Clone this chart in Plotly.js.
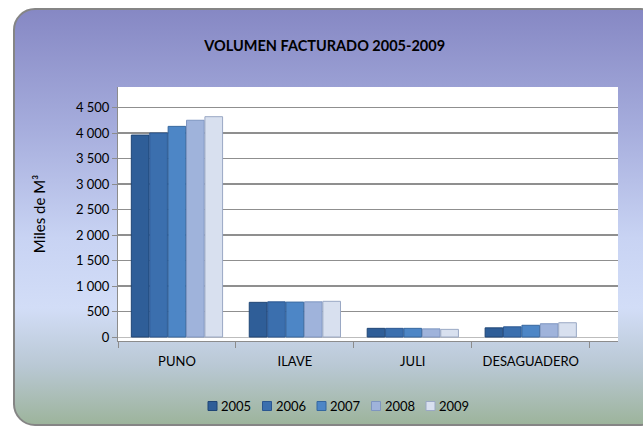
<!DOCTYPE html>
<html>
<head>
<meta charset="utf-8">
<script src="https://cdn.plot.ly/plotly-3.0.1.min.js"></script>
<style>
  html, body { margin: 0; padding: 0; background: #ffffff; }
  #frame {
    position: absolute; left: 13px; top: 8px; width: 650px; height: 418px;
    border: 2px solid #858585; border-radius: 22px; box-sizing: border-box;
    background: linear-gradient(to bottom, #8688c4 0%, #a5acdc 28%, #c8d3f3 55%, #d2ddf7 72%, #b9c8d4 86%, #9db49c 100%);
  }
  #chart { position: absolute; left: 0; top: 0; width: 643px; height: 432px; }
</style>
</head>
<body>
<div id="frame"></div>
<div id="chart"></div>
<script>
const categories = ["PUNO", "ILAVE", "JULI", "DESAGUADERO"];
const years = ["2005", "2006", "2007", "2008", "2009"];
const v2005 = [3960, 680, 170, 180];
const v2006 = [4000, 690, 170, 200];
const v2007 = [4130, 685, 170, 230];
const v2008 = [4250, 690, 160, 260];
const v2009 = [4320, 700, 150, 280];
const tickVals = [0, 500, 1000, 1500, 2000, 2500, 3000, 3500, 4000, 4500];

const series = [v2005, v2006, v2007, v2008, v2009];
const colors = ["#2f5e98", "#3b6fae", "#4d86c6", "#9fb3db", "#d8e0ef"];
const lines = ["#1f4575", "#2a5690", "#35679f", "#7e95c0", "#9aa8c4"];

const FONT = "Lato, 'Noto Sans', sans-serif";

// plot area geometry (pixels)
const W = 643, H = 432;
const M = { l: 118, r: 25, t: 87, b: 91 };
const PW = W - M.l - M.r, PH = H - M.t - M.b;
const px2x = px => (px - M.l) / PW;
const py2y = py => (H - M.b - py) / PH;

const data = series.map((vals, i) => ({
  type: "bar",
  name: years[i],
  x: categories,
  y: vals,
  marker: { color: colors[i], line: { color: lines[i], width: 1 } },
  hoverinfo: "x+y+name",
  showlegend: false
}));

// custom legend (square swatch directly followed by the year)
const legendStart = 208, legendStep = 54.5, legendY = 406, sw = 9;
const shapes = [], annotations = [];
years.forEach((yr, i) => {
  const x0 = legendStart + i * legendStep;
  shapes.push({
    type: "rect", xref: "paper", yref: "paper",
    x0: px2x(x0), x1: px2x(x0 + sw),
    y0: py2y(legendY + sw / 2), y1: py2y(legendY - sw / 2),
    fillcolor: colors[i], line: { color: lines[i], width: 1 }
  });
  annotations.push({
    xref: "paper", yref: "paper",
    x: px2x(x0 + sw + 2), y: py2y(legendY),
    xanchor: "left", yanchor: "middle",
    text: yr, showarrow: false,
    font: { size: 13, family: FONT, color: "#000" }
  });
});

const layout = {
  width: W, height: H,
  margin: M,
  paper_bgcolor: "rgba(0,0,0,0)",
  plot_bgcolor: "#ffffff",
  separators: ", ",
  font: { family: FONT, size: 13, color: "#000000" },
  title: {
    text: "<b>VOLUMEN FACTURADO 2005-2009</b>",
    font: { size: 14.5, family: FONT, color: "#000" },
    x: 0.505, xref: "container", xanchor: "center",
    y: 1 - 46 / 432, yref: "container", yanchor: "middle"
  },
  barmode: "group",
  bargap: 0.22,
  bargroupgap: 0.04,
  xaxis: {
    type: "category",
    range: [-0.5, 3.74],
    showgrid: false,
    showline: true, linecolor: "#8c8c8c", linewidth: 1,
    ticks: "outside", ticklen: 6, tickcolor: "#8c8c8c",
    tickson: "boundaries",
    ticklabelstandoff: 8,
    tickfont: { size: 13 }
  },
  yaxis: {
    range: [-78, 4902],
    tickvals: tickVals,
    tickformat: ",d",
    showgrid: true, gridcolor: "#8f8f8f", gridwidth: 1.2,
    zeroline: true, zerolinecolor: "#bdbdbd", zerolinewidth: 1,
    showline: true, linecolor: "#8c8c8c", linewidth: 1,
    ticks: "outside", ticklen: 5, tickcolor: "#8c8c8c",
    tickfont: { size: 13 },
    title: { text: "Miles de M³", font: { size: 15 }, standoff: 26 }
  },
  shapes: shapes,
  annotations: annotations,
  showlegend: false
};

Plotly.newPlot("chart", data, layout, { displayModeBar: false, staticPlot: true });
</script>
</body>
</html>
